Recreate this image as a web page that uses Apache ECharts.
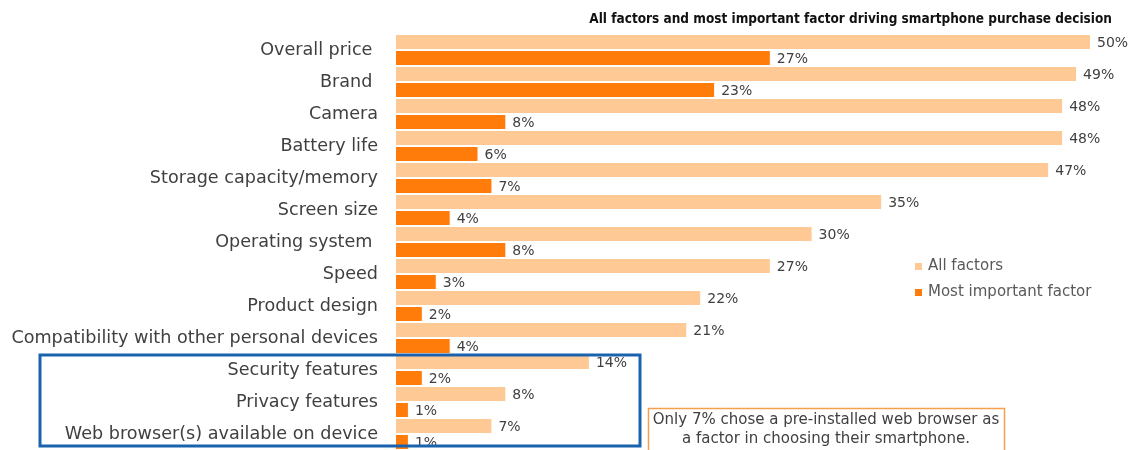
<!DOCTYPE html>
<html>
<head>
<meta charset="utf-8">
<script src="https://cdn.jsdelivr.net/npm/echarts@6/dist/echarts.min.js"></script>
<style>
  html, body { margin: 0; padding: 0; background: #fff; }
  #chart { width: 1132px; height: 450px; }
</style>
</head>
<body>
<div id="chart"></div>
<script>
// Purchase-decision factors, top to bottom
const categories = [
  'Overall price ',
  'Brand ',
  'Camera',
  'Battery life',
  'Storage capacity/memory',
  'Screen size',
  'Operating system ',
  'Speed',
  'Product design',
  'Compatibility with other personal devices',
  'Security features',
  'Privacy features',
  'Web browser(s) available on device'
];
// Share of respondents (%)
const allFactors = [50, 49, 48, 48, 47, 35, 30, 27, 22, 21, 14, 8, 7];
const mostImportant = [27, 23, 8, 6, 7, 4, 8, 3, 2, 4, 2, 1, 1];

const seriesNames = ['All factors', 'Most important factor'];
const subtitle = 'All factors and most important factor driving smartphone purchase decision';
const note = 'Only 7% chose a pre-installed web browser as\na factor in choosing their smartphone.';

const FONT = 'DejaVu Sans';
const chart = echarts.init(document.getElementById('chart'), null, { renderer: 'canvas' });

const valueLabel = {
  show: true,
  position: 'right',
  distance: 6,
  offset: [0, 1],
  formatter: '{c}%',
  fontFamily: FONT,
  fontSize: 14,
  color: '#404040'
};

chart.setOption({
  animation: false,
  backgroundColor: '#ffffff',
  title: {
    text: subtitle,
    right: 15,
    top: 7,
    textStyle: {
      fontFamily: 'DejaVu Sans Condensed',
      fontWeight: 'bold',
      fontSize: 13.5,
      color: '#111111'
    }
  },
  legend: {
    orient: 'vertical',
    left: 908,
    top: 254,
    itemWidth: 9,
    itemHeight: 9,
    itemGap: 11,
    icon: 'rect',
    data: seriesNames,
    textStyle: { fontFamily: FONT, fontSize: 15, color: '#595959' }
  },
  grid: { left: 395, right: 41, top: 34, bottom: 0, containLabel: false },
  xAxis: {
    type: 'value',
    min: 0,
    max: 50,
    show: false
  },
  yAxis: {
    type: 'category',
    inverse: true,
    data: categories,
    axisLine: { show: false },
    axisTick: { show: false },
    splitLine: { show: false },
    axisLabel: {
      margin: 17,
      fontFamily: FONT,
      fontSize: 17.6,
      color: '#404040'
    }
  },
  series: [
    {
      name: seriesNames[0],
      type: 'bar',
      data: allFactors,
      barWidth: 16,
      barGap: '0%',
      itemStyle: { color: '#FFC995', borderColor: '#ffffff', borderWidth: 1 },
      label: valueLabel
    },
    {
      name: seriesNames[1],
      type: 'bar',
      data: mostImportant,
      barWidth: 16,
      itemStyle: { color: '#FF7C0A', borderColor: '#ffffff', borderWidth: 1 },
      label: valueLabel
    }
  ],
  graphic: [
    {
      // highlight around the privacy/security-related factors
      type: 'rect',
      shape: { x: 40, y: 355, width: 600, height: 91 },
      style: { fill: 'none', stroke: '#1B62AE', lineWidth: 3 },
      z: 10
    },
    {
      type: 'rect',
      shape: { x: 648.5, y: 408.5, width: 356, height: 50 },
      style: { fill: '#ffffff', stroke: '#F5A04E', lineWidth: 1.5 },
      z: 10
    },
    {
      type: 'text',
      x: 826,
      y: 411,
      style: {
        text: note,
        align: 'center',
        verticalAlign: 'top',
        fontFamily: FONT,
        fontSize: 15,
        lineHeight: 19,
        fill: '#404040'
      },
      z: 11
    }
  ]
});
</script>
</body>
</html>
